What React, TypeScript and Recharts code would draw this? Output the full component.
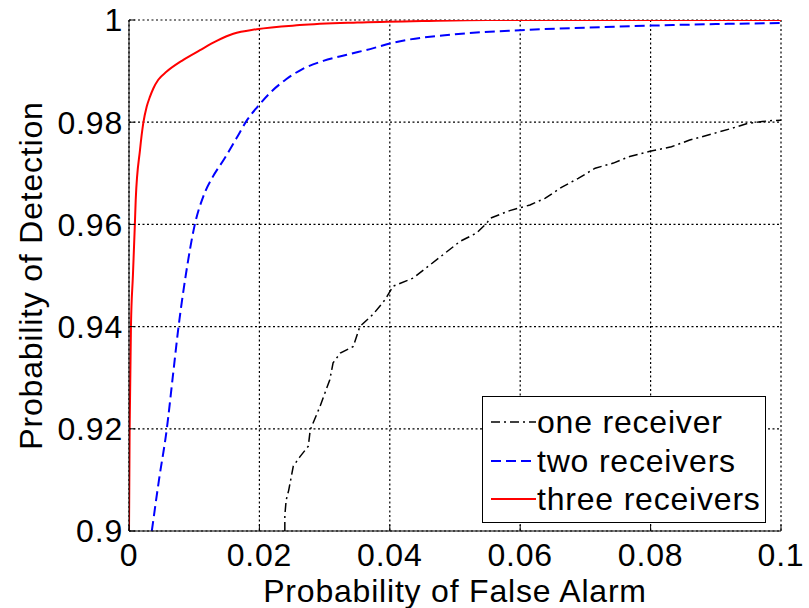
import React from 'react';
import { LineChart, Line, XAxis, YAxis, CartesianGrid, Legend, Label } from 'recharts';

const FONT = '"Liberation Sans", Arial, Helvetica, sans-serif';
const FONT_SIZE = 32;
const LETTER_SPACING = 0.8;

const xTicks = [0, 0.02, 0.04, 0.06, 0.08, 0.1];
const yTicks = [0.9, 0.92, 0.94, 0.96, 0.98, 1];
const xTickLabels = ['0', '0.02', '0.04', '0.06', '0.08', '0.1'];
const yTickLabels = ['0.9', '0.92', '0.94', '0.96', '0.98', '1'];

const xAxisTitle = 'Probability of False Alarm';
const yAxisTitle = 'Probability of Detection';

const seriesNames = ['one receiver', 'two receivers', 'three receivers'];
const seriesColors = ['#000000', '#0000ff', '#ff0000'];

// one receiver
const onePfa = [0.0239, 0.0239, 0.0241, 0.0245, 0.0252, 0.0262, 0.0275, 0.0278, 0.0293, 0.0308, 0.0313, 0.0324, 0.0344, 0.0354, 0.0375, 0.0393, 0.0405, 0.0436, 0.0462, 0.0482, 0.0508, 0.0533, 0.0549, 0.0554, 0.0584, 0.0615, 0.0638, 0.0664, 0.0689, 0.0715, 0.0743, 0.0768, 0.0799, 0.0832, 0.086, 0.0894, 0.0922, 0.095, 0.0983, 0.1];
const onePd = [0.9, 0.903, 0.906, 0.908, 0.9127, 0.9145, 0.9166, 0.9198, 0.9244, 0.9296, 0.9329, 0.9348, 0.9361, 0.94, 0.9425, 0.9453, 0.9479, 0.9495, 0.9521, 0.9541, 0.9567, 0.9583, 0.9603, 0.9612, 0.9627, 0.9638, 0.9651, 0.9673, 0.969, 0.971, 0.972, 0.9733, 0.9743, 0.9752, 0.9765, 0.9777, 0.9787, 0.9798, 0.9803, 0.9804];

// two receivers
const twoPfa = [0.0035, 0.0046, 0.0058, 0.0067, 0.0076, 0.0087, 0.0101, 0.0114, 0.0128, 0.0146, 0.0165, 0.0181, 0.0197, 0.0216, 0.0241, 0.0266, 0.0298, 0.0334, 0.0375, 0.04, 0.05, 0.06, 0.07, 0.08, 0.09, 0.1];
const twoPd = [0.9, 0.91, 0.92, 0.93, 0.94, 0.95, 0.96, 0.9655, 0.9692, 0.9728, 0.9769, 0.9804, 0.983, 0.9857, 0.9884, 0.9904, 0.992, 0.9932, 0.9945, 0.9954, 0.9972, 0.998, 0.9985, 0.9989, 0.9992, 0.9994];

// three receivers
const threePfa = [0, 0.0001, 0.0003, 0.0006, 0.0009, 0.00103, 0.00169, 0.00219, 0.00271, 0.00322, 0.00373, 0.00449, 0.00578, 0.00833, 0.01089, 0.01345, 0.016, 0.01959, 0.0262, 0.035, 0.045, 0.055, 0.1];
const threePd = [0.9, 0.92, 0.94, 0.95, 0.96, 0.9648, 0.9746, 0.9798, 0.983, 0.985, 0.9866, 0.9883, 0.9899, 0.9922, 0.9941, 0.9959, 0.9973, 0.9982, 0.999, 0.9995, 0.9998, 1, 1];

const zip = (xs: number[], ys: number[]) => xs.map((x, i) => ({ x, y: ys[i] }));
const oneData = zip(onePfa, onePd);
const twoData = zip(twoPfa, twoPd);
const threeData = zip(threePfa, threePd);

const seriesData = [oneData, twoData, threeData];
const seriesDash = ['9 4 2 4', '10 5', undefined];
const seriesWidth = [1.5, 2, 2];
const seriesCurve: ('linear' | 'monotone')[] = ['linear', 'monotone', 'monotone'];

const fmtX = (v: number) => xTickLabels[xTicks.findIndex((t) => Math.abs(t - v) < 1e-9)] ?? String(v);
const fmtY = (v: number) => yTickLabels[yTicks.findIndex((t) => Math.abs(t - v) < 1e-9)] ?? String(v);

const tickStyle = { fontSize: FONT_SIZE, fill: '#000', fontFamily: FONT, letterSpacing: LETTER_SPACING };

const renderLegend = () => (
  <div
    style={{
      width: 284,
      height: 127,
      boxSizing: 'border-box',
      border: '1px solid #000',
      background: '#fff',
      paddingTop: 6,
      fontFamily: FONT,
      fontSize: FONT_SIZE,
      letterSpacing: LETTER_SPACING,
      color: '#000',
    }}
  >
    {seriesNames.map((name, i) => (
      <div key={name} style={{ display: 'flex', alignItems: 'center', height: 38.5 }}>
        <svg width={56} height={10} style={{ flex: '0 0 auto' }}>
          <line
            x1={8}
            x2={53}
            y1={5}
            y2={5}
            stroke={seriesColors[i]}
            strokeWidth={seriesWidth[i]}
            strokeDasharray={seriesDash[i]}
          />
        </svg>
        <span style={{ lineHeight: '38.5px', whiteSpace: 'nowrap', marginLeft: -2 }}>{name}</span>
      </div>
    ))}
  </div>
);

const YTitle = (props: any) => {
  const vb = props.viewBox || { x: 0, y: 0, width: 0, height: 0 };
  const cx = vb.x + 31;
  const cy = vb.y + vb.height / 2;
  return (
    <text
      x={cx}
      y={cy}
      transform={`rotate(-90, ${cx}, ${cy})`}
      textAnchor="middle"
      dominantBaseline="central"
      fontSize={FONT_SIZE}
      fontFamily={FONT}
      letterSpacing={LETTER_SPACING}
      fill="#000"
    >
      {yAxisTitle}
    </text>
  );
};

const XTitle = (props: any) => {
  const vb = props.viewBox || { x: 0, y: 0, width: 0, height: 0 };
  const cx = vb.x + vb.width / 2;
  const by = vb.y + vb.height - 6;
  return (
    <text
      x={cx}
      y={by}
      textAnchor="middle"
      fontSize={FONT_SIZE}
      fontFamily={FONT}
      letterSpacing={LETTER_SPACING}
      fill="#000"
    >
      {xAxisTitle}
    </text>
  );
};

export default function App() {
  return (
    <div style={{ position: 'absolute', left: 0, top: 0, width: 809, height: 608, background: '#fff' }}>
      <LineChart
        width={809}
        height={608}
        margin={{ top: 20, right: 28, bottom: 0, left: 0 }}
        style={{ fontFamily: FONT }}
      >
        <CartesianGrid stroke="#000" strokeDasharray="2 2.5" strokeWidth={1.2} />
        <XAxis
          type="number"
          dataKey="x"
          domain={[0, 0.1]}
          ticks={xTicks}
          tickFormatter={fmtX}
          allowDataOverflow
          height={77}
          tickSize={-6}
          tickMargin={18}
          tick={tickStyle}
          axisLine={{ stroke: '#000' }}
          tickLine={{ stroke: '#000' }}
          interval={0}
        >
          <Label content={<XTitle />} />
        </XAxis>
        <XAxis
          xAxisId="top"
          orientation="top"
          type="number"
          dataKey="x"
          domain={[0, 0.1]}
          ticks={xTicks}
          tickFormatter={() => ''}
          allowDataOverflow
          height={0}
          tickSize={-6}
          axisLine={{ stroke: '#000' }}
          tickLine={{ stroke: '#000' }}
          interval={0}
        />
        <YAxis
          type="number"
          domain={[0.9, 1]}
          ticks={yTicks}
          tickFormatter={fmtY}
          allowDataOverflow
          width={129}
          tickSize={-6}
          tickMargin={12}
          tick={tickStyle}
          axisLine={{ stroke: '#000' }}
          tickLine={{ stroke: '#000' }}
          interval={0}
        >
          <Label content={<YTitle />} />
        </YAxis>
        <YAxis
          yAxisId="right"
          orientation="right"
          type="number"
          domain={[0.9, 1]}
          ticks={yTicks}
          tickFormatter={() => ''}
          allowDataOverflow
          width={0}
          tickSize={-6}
          axisLine={{ stroke: '#000' }}
          tickLine={{ stroke: '#000' }}
          interval={0}
        />
        {seriesNames.map((name, i) => (
          <Line
            key={name}
            name={name}
            data={seriesData[i]}
            dataKey="y"
            type={seriesCurve[i]}
            stroke={seriesColors[i]}
            strokeWidth={seriesWidth[i]}
            strokeDasharray={seriesDash[i]}
            dot={false}
            activeDot={false}
            isAnimationActive={false}
          />
        ))}
        <Legend
          content={renderLegend}
          layout="horizontal"
          verticalAlign="middle"
          align="center"
          wrapperStyle={{ left: 482, top: 396, width: 284, height: 127 }}
        />
      </LineChart>
    </div>
  );
}
